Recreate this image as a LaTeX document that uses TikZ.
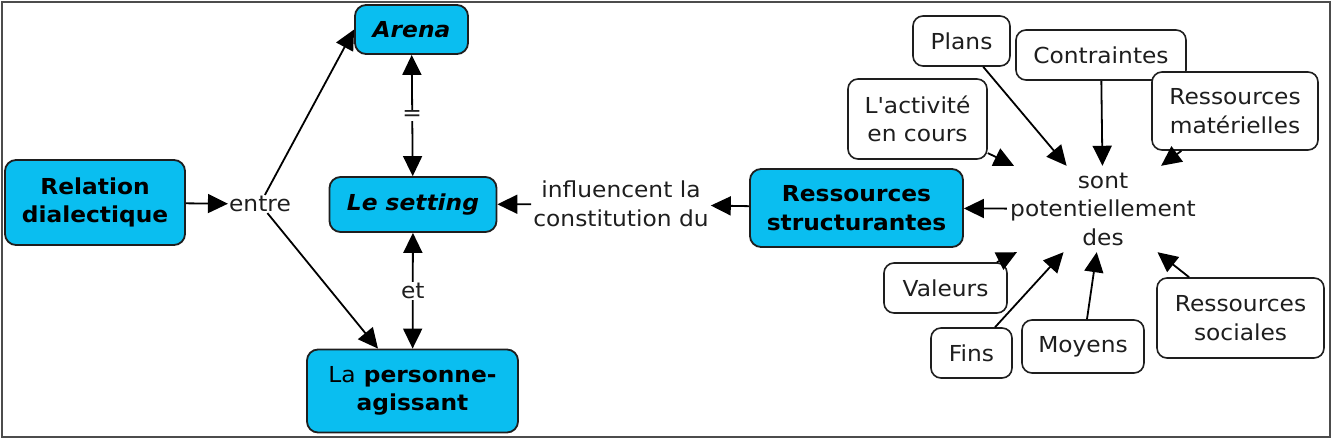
\documentclass[tikz,border=0pt]{standalone}
\usepackage{fontspec}
\setmainfont[FakeStretch=1.06, Ligatures=TeXOff]{DejaVu Sans}
\usetikzlibrary{arrows.meta}
\definecolor{boxcyan}{RGB}{10,190,240}
\definecolor{ink}{RGB}{30,30,30}
\begin{document}
\begin{tikzpicture}[x=1pt,y=-1pt,
  font=\fontsize{22}{28.5}\selectfont,
  concept/.style={draw=ink, line width=1.8pt, rounded corners=11pt, fill=boxcyan, align=center, inner sep=0pt, font=\fontsize{22}{28.5}\selectfont\bfseries},
  res/.style={draw=ink, line width=1.6pt, rounded corners=10pt, fill=white, align=center, inner sep=0pt, text=ink},
  lab/.style={align=center, inner sep=2pt, text=ink},
  tip/.tip={Triangle[length=20pt,width=19pt]},
  arr/.style={-tip, line width=1.8pt, draw=black},
  darr/.style={tip-tip, line width=1.8pt, draw=black}
]
\useasboundingbox (0,0) rectangle (1336,441);
\draw[line width=2.2pt, black!70] (2,2) rectangle (1330,437);

% concept nodes
\node[concept, minimum width=180pt, minimum height=85pt] (rel) at (95,202.5) {Relation\\dialectique};
\node[concept, minimum width=113pt, minimum height=49pt] (arena) at (411.5,29.5) {\itshape Arena};
\node[concept, minimum width=167pt, minimum height=55pt] (setting) at (413,204.5) {\itshape Le setting};
\node[concept, minimum width=211pt, minimum height=83pt] (pers) at (412.5,391) {{\mdseries La} personne-\\agissant};
\node[concept, minimum width=213pt, minimum height=78pt] (rs) at (856.5,208) {Ressources\\structurantes};

% linking phrases
\node[lab, inner sep=1pt] (entre) at (260,204) {entre};
\node[lab] (infl) at (621,204) {influencent la\\constitution du};
\node[lab, minimum width=192pt, minimum height=86pt] (sont) at (1103,209) {sont\\potentiellement\\des};

% resource nodes
\node[res, minimum width=97pt, minimum height=50pt] (plans) at (961.5,41) {Plans};
\node[res, minimum width=170pt, minimum height=50pt] (contr) at (1101,55) {Contraintes};
\node[res, minimum width=166pt, minimum height=78pt] (mat) at (1235,111) {Ressources\\matérielles};
\node[res, minimum width=139pt, minimum height=80pt] (act) at (917.5,119) {L'activité\\en cours};
\node[res, minimum width=123pt, minimum height=50pt] (val) at (945.5,288) {Valeurs};
\node[res, minimum width=81pt, minimum height=50pt] (fins) at (971.5,353) {Fins};
\node[res, minimum width=122pt, minimum height=53pt] (moy) at (1083,346.5) {Moyens};
\node[res, minimum width=167pt, minimum height=80pt] (soc) at (1240.5,318) {Ressources\\sociales};

% connectors
\draw[arr] (rel) -- (entre);
\draw[arr] (entre) -- (arena.west);
\draw[arr] (entre) -- (pers);
\draw[darr] (arena) -- node[lab, fill=white, inner sep=1pt] {=} (setting);
\draw[darr] (setting) -- node[lab, fill=white, inner sep=1pt] {et} (pers);
\draw[arr] (infl) -- (setting);
\draw[arr] (rs) -- (infl);
\draw[arr] (sont) -- (rs);

\foreach \n in {plans,contr,mat,act,val,fins,moy,soc}
  \draw[arr] (\n) -- (sont);
\end{tikzpicture}
\end{document}
